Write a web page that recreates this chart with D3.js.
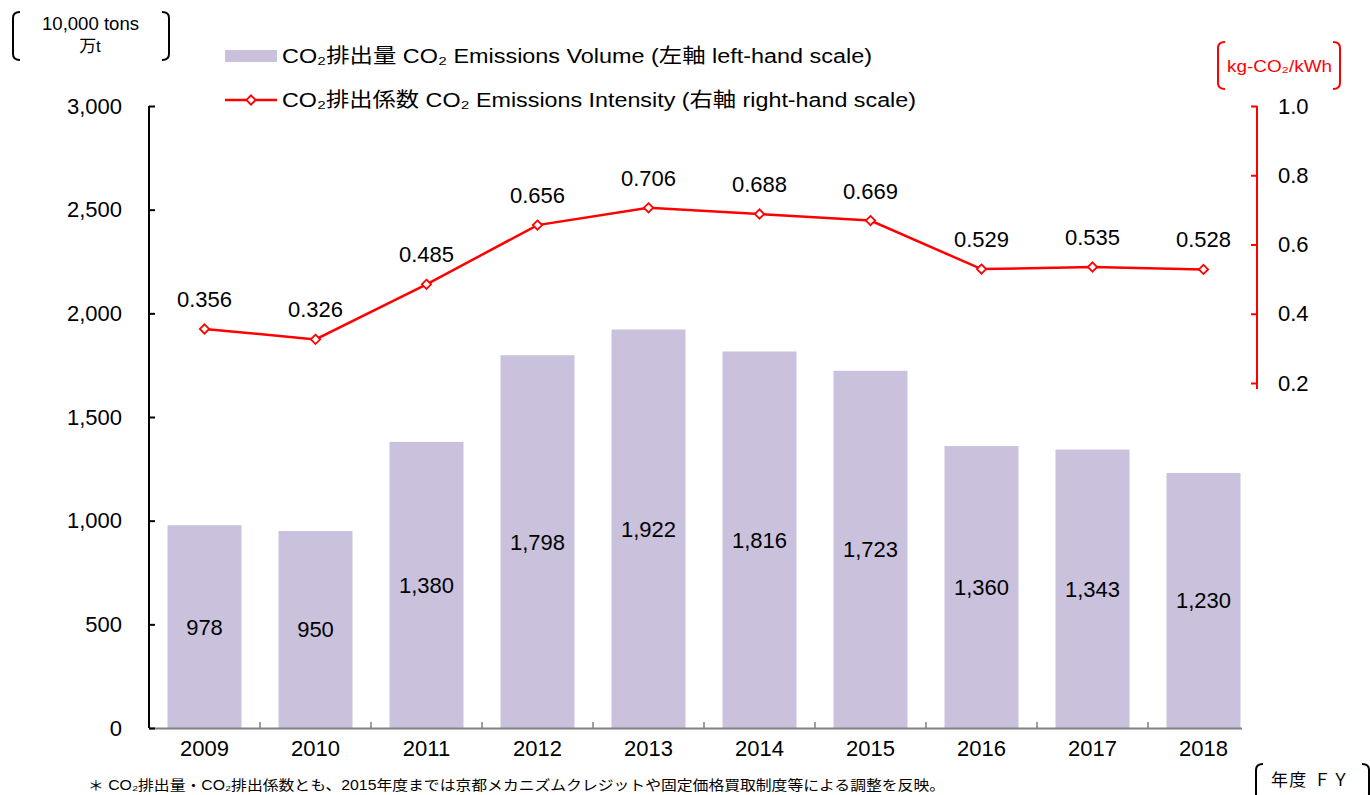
<!DOCTYPE html>
<html>
<head>
<meta charset="utf-8">
<script src="https://cdn.jsdelivr.net/npm/d3@7/dist/d3.min.js"></script>
<style>
  html, body { margin: 0; padding: 0; background: #fff; }
  svg { display: block; }
  text { font-family: "Liberation Sans", Arial, "Noto Sans CJK JP", sans-serif; fill: #000; }
</style>
</head>
<body>
<svg id="chart" width="1370" height="795"></svg>
<script>
const years = ["2009","2010","2011","2012","2013","2014","2015","2016","2017","2018"];
const volume = [978, 950, 1380, 1798, 1922, 1816, 1723, 1360, 1343, 1230];
const intensity = [0.356, 0.326, 0.485, 0.656, 0.706, 0.688, 0.669, 0.529, 0.535, 0.528];
const leftTicks = [0, 500, 1000, 1500, 2000, 2500, 3000];
const rightTicks = [0.2, 0.4, 0.6, 0.8, 1.0];
const legendLabels = ["CO₂排出量 CO₂ Emissions Volume (左軸 left-hand scale)",
                      "CO₂排出係数 CO₂ Emissions Intensity (右軸 right-hand scale)"];
const leftUnit = ["10,000 tons", "万t"];
const rightUnit = "kg-CO₂/kWh";
const xUnit = "年度 ＦＹ";
const footnote = "＊ CO₂排出量・CO₂排出係数とも、2015年度までは京都メカニズムクレジットや固定価格買取制度等による調整を反映。";

const barColor = "#cac1dc";
const red = "#ff0000";
const svg = d3.select("#chart");
const FS = 22;

const x = d3.scaleBand().domain(years).range([149, 1259]).paddingInner(1/3).paddingOuter(1/6);
const yL = d3.scaleLinear().domain([0, 3000]).range([728, 106]);
const yR = d3.scaleLinear().domain([0, 1]).range([452.25, 106]);
const fmt = d3.format(",");

// bars
svg.append("g").selectAll("rect").data(years).join("rect")
  .attr("x", d => x(d)).attr("width", x.bandwidth())
  .attr("y", (d, i) => yL(volume[i])).attr("height", (d, i) => yL(0) - yL(volume[i]))
  .attr("fill", barColor);

// bar labels
svg.append("g").selectAll("text").data(years).join("text")
  .attr("x", d => x(d) + x.bandwidth() / 2)
  .attr("y", (d, i) => (yL(volume[i]) + yL(0)) / 2)
  .attr("text-anchor", "middle").attr("dy", "0.36em")
  .attr("font-size", FS)
  .text((d, i) => fmt(volume[i]));

// x axis
const xAxisG = svg.append("g");
xAxisG.append("line").attr("x1", 149).attr("x2", 1242).attr("y1", 728.5).attr("y2", 728.5)
  .attr("stroke", "#808080").attr("stroke-width", 2);
xAxisG.selectAll("line.tk").data(years.slice(1)).join("line").attr("class", "tk")
  .attr("x1", d => x(d) - x.step() * x.paddingInner() / 2).attr("x2", d => x(d) - x.step() * x.paddingInner() / 2)
  .attr("y1", 728).attr("y2", 722).attr("stroke", "#808080").attr("stroke-width", 1.5);
xAxisG.selectAll("text").data(years).join("text")
  .attr("x", d => x(d) + x.bandwidth() / 2).attr("y", 756)
  .attr("text-anchor", "middle").attr("font-size", FS).text(d => d);

// left axis
const lAxis = svg.append("g").attr("transform", "translate(149,0)")
  .call(d3.axisLeft(yL).tickValues(leftTicks).tickSize(-6).tickPadding(27).tickFormat(fmt));
lAxis.select(".domain").attr("stroke", "#000").attr("stroke-width", 2).attr("d", "M0,106V728");
lAxis.selectAll(".tick line").attr("stroke", "#000").attr("stroke-width", 2);
lAxis.selectAll(".tick text").attr("font-size", FS).attr("fill", "#000")
  .attr("font-family", "'Liberation Sans', Arial, sans-serif");

// right axis
const rAxis = svg.append("g").attr("transform", "translate(1257,0)")
  .call(d3.axisRight(yR).tickValues(rightTicks).tickSize(-6).tickPadding(21).tickFormat(d3.format(".1f")));
rAxis.select(".domain").attr("stroke", red).attr("stroke-width", 2).attr("d", `M0,${yR(1)}V${yR(0.2) + 6}`);
rAxis.selectAll(".tick line").attr("stroke", red).attr("stroke-width", 2);
rAxis.selectAll(".tick text").attr("font-size", FS).attr("fill", "#000")
  .attr("font-family", "'Liberation Sans', Arial, sans-serif");

// line
const line = d3.line().x((d, i) => x(years[i]) + x.bandwidth() / 2).y(d => yR(d));
svg.append("path").datum(intensity).attr("d", line)
  .attr("fill", "none").attr("stroke", red).attr("stroke-width", 2.5);
const diamond = d3.symbol().type(d3.symbolDiamond2).size(55);
svg.append("g").selectAll("path").data(intensity).join("path")
  .attr("transform", (d, i) => `translate(${x(years[i]) + x.bandwidth() / 2},${yR(d)})`)
  .attr("d", diamond).attr("fill", "#fff").attr("stroke", red).attr("stroke-width", 1.8);
svg.append("g").selectAll("text").data(intensity).join("text")
  .attr("x", (d, i) => x(years[i]) + x.bandwidth() / 2)
  .attr("y", d => yR(d) - 22)
  .attr("text-anchor", "middle").attr("font-size", FS)
  .text(d => d3.format(".3f")(d));

// legend
const leg = svg.append("g");
leg.append("rect").attr("x", 225).attr("y", 50).attr("width", 52).attr("height", 12).attr("fill", barColor);
leg.append("line").attr("x1", 225).attr("x2", 277).attr("y1", 100).attr("y2", 100).attr("stroke", red).attr("stroke-width", 2.5);
leg.append("path").attr("transform", "translate(251,100)").attr("d", diamond).attr("fill", "#fff").attr("stroke", red).attr("stroke-width", 1.8);
leg.append("text").attr("x", 282).attr("y", 56).attr("dy", "0.36em").attr("font-size", 20)
  .attr("textLength", 590).attr("lengthAdjust", "spacingAndGlyphs").text(legendLabels[0]);
leg.append("text").attr("x", 282).attr("y", 100).attr("dy", "0.36em").attr("font-size", 20)
  .attr("textLength", 634).attr("lengthAdjust", "spacingAndGlyphs").text(legendLabels[1]);

// bracket helper
function bracket(g, x0, y0, y1, dir, color) {
  const w = 7 * dir, r = 6;
  const xs = x0, xe = x0 - w;
  g.append("path")
    .attr("d", `M${xs},${y0} Q${xe},${y0} ${xe},${y0 + r} L${xe},${y1 - r} Q${xe},${y1} ${xs},${y1}`)
    .attr("fill", "none").attr("stroke", color).attr("stroke-width", 2);
}
const units = svg.append("g");
bracket(units, 20, 12, 60, 1, "#000");
bracket(units, 162, 12, 60, -1, "#000");
units.append("text").attr("x", 90.5).attr("y", 24).attr("dy", "0.36em").attr("text-anchor", "middle")
  .attr("font-size", 18).attr("textLength", 97).attr("lengthAdjust", "spacingAndGlyphs").text(leftUnit[0]);
units.append("text").attr("x", 90).attr("y", 46).attr("dy", "0.36em").attr("text-anchor", "middle")
  .attr("font-size", 17).text(leftUnit[1]);

bracket(units, 1225, 42, 89, 1, red);
bracket(units, 1333, 42, 89, -1, red);
units.append("text").attr("x", 1279.5).attr("y", 66).attr("dy", "0.36em").attr("text-anchor", "middle")
  .attr("font-size", 16).style("fill", red)
  .attr("textLength", 105).attr("lengthAdjust", "spacingAndGlyphs").text(rightUnit);

bracket(units, 1263, 764, 800, 1, "#000");
bracket(units, 1362, 764, 800, -1, "#000");
units.append("text").attr("x", 1271).attr("y", 780).attr("dy", "0.36em")
  .attr("font-size", 17).attr("textLength", 78).attr("lengthAdjust", "spacing").text(xUnit);

svg.append("text").attr("x", 88).attr("y", 785).attr("dy", "0.36em").attr("font-size", 14)
  .attr("textLength", 857).attr("lengthAdjust", "spacingAndGlyphs").text(footnote);
</script>
</body>
</html>
